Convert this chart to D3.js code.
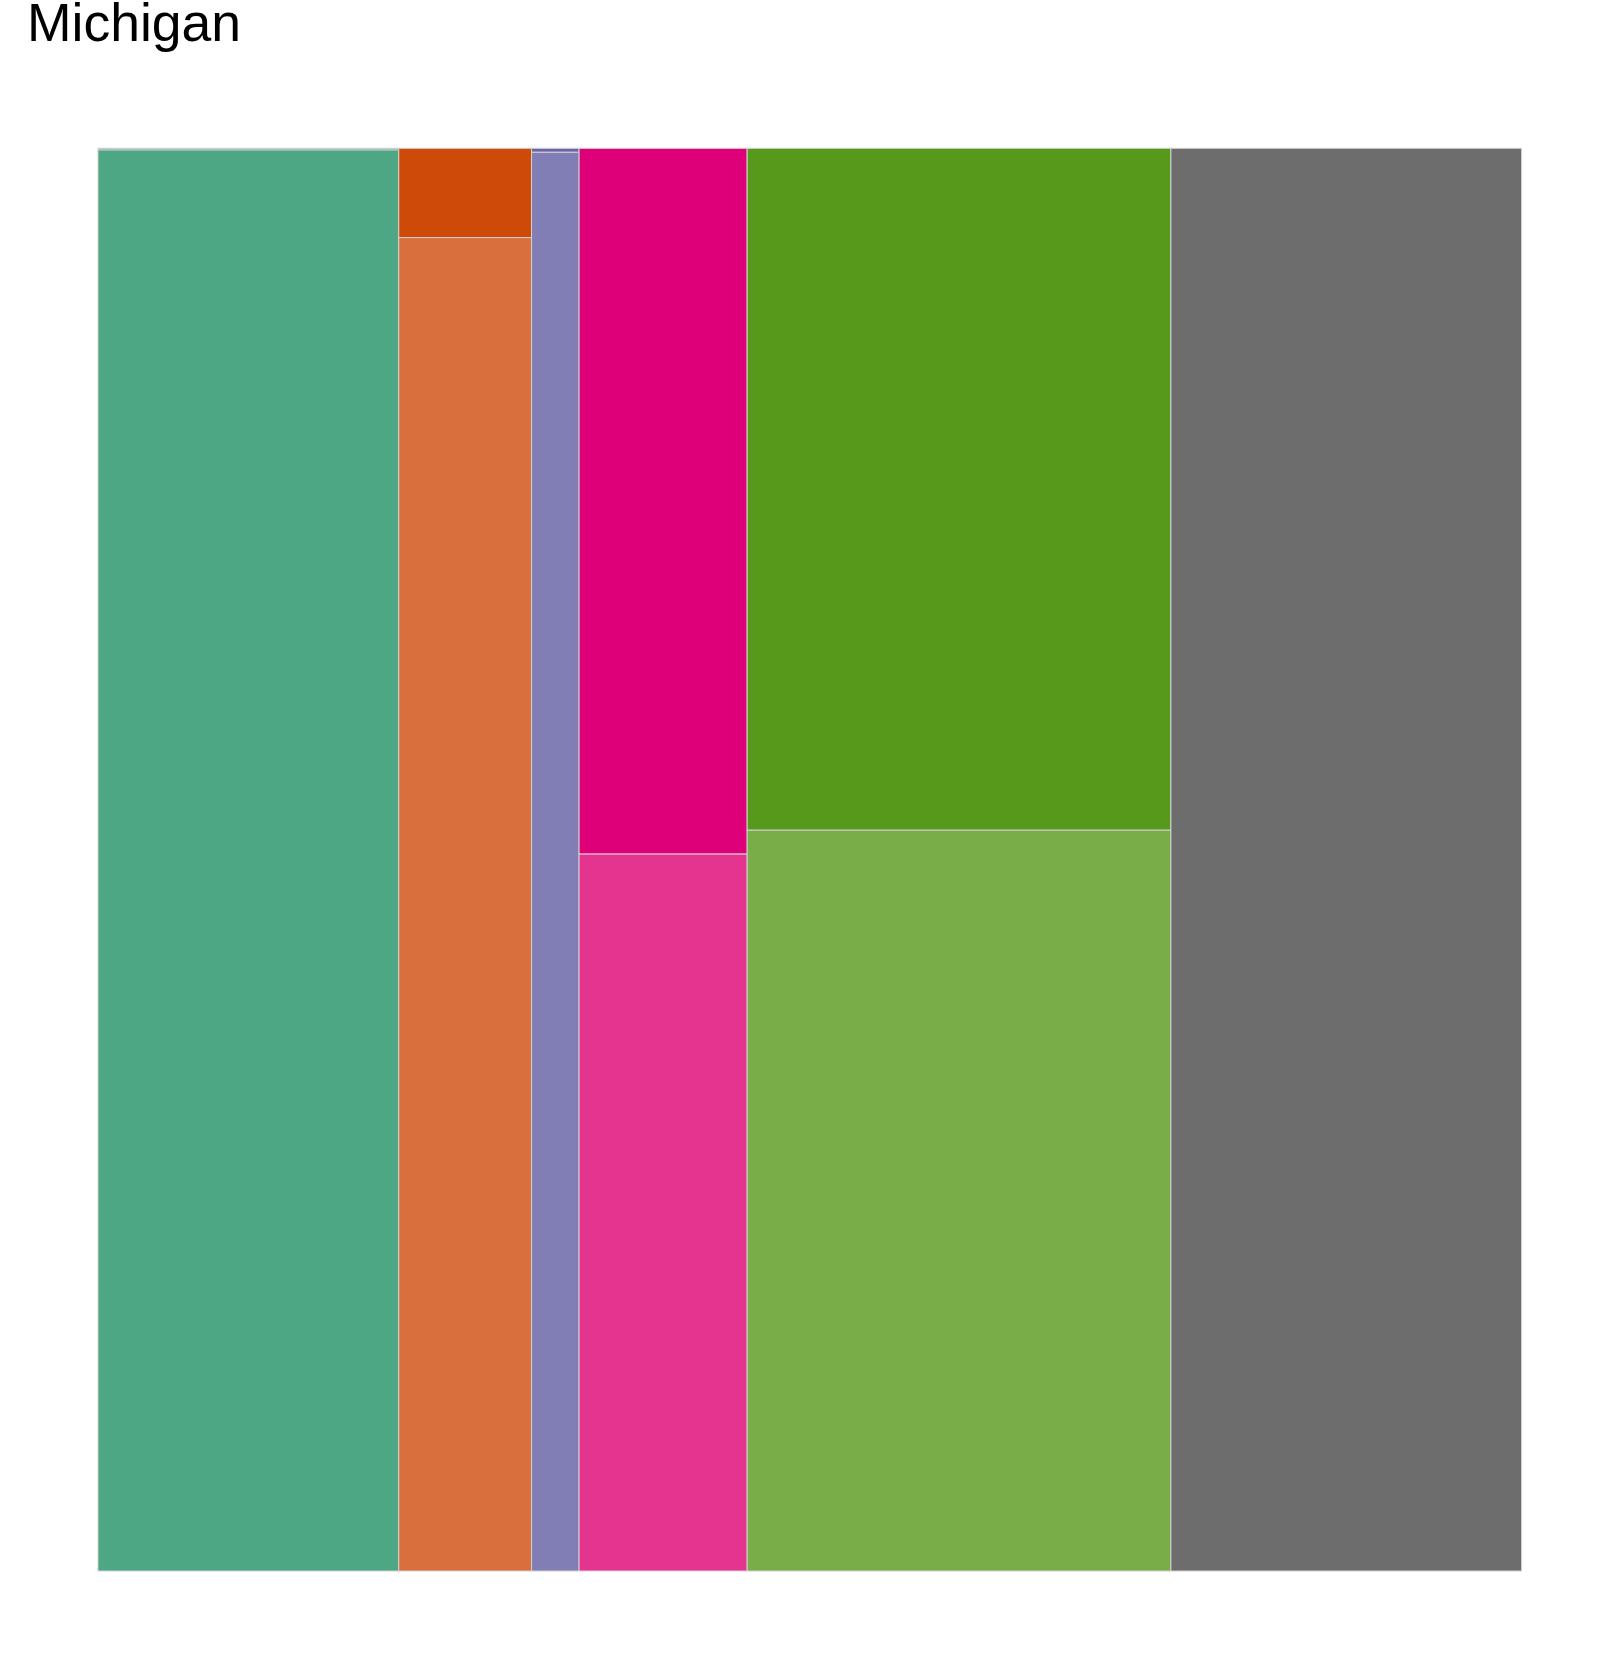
<!DOCTYPE html>
<html><head><meta charset="utf-8">
<script src="https://cdn.jsdelivr.net/npm/d3@7"></script>
<style>body{margin:0;background:#fff}svg{display:block}</style>
</head><body>
<script>
// Column categories and their share of the total width
const categories = ["Cat1","Cat2","Cat3","Cat4","Cat5","Cat6"];
const columnShare = [0.2113, 0.0933, 0.0334, 0.1181, 0.2977, 0.2464];
// Share of each column in the top (darker) row
const topShare = [0.0012, 0.0628, 0.0028, 0.4961, 0.4793, 0.0];
const topColors = ["#3f9a78", "#ce4a08", "#6965a8", "#dd0078", "#57991a", "#6d6d6d"];
const bottomColors = ["#4da785", "#d96f3c", "#817db5", "#e53490", "#78ad48", "#6d6d6d"];
const title = "Michigan";

const W = 1608, H = 1654;
const svg = d3.select("body").append("svg").attr("width", W).attr("height", H);

const x = d3.scaleLinear().domain([0, 1]).range([98, 1521.3]);
const y = d3.scaleLinear().domain([0, 1]).range([148.3, 1571]);

const starts = d3.cumsum([0, ...columnShare]);
const cells = [];
categories.forEach((c, i) => {
  const x0 = starts[i], x1 = starts[i] + columnShare[i];
  cells.push({x0, x1, y0: 0, y1: topShare[i], fill: topColors[i]});
  cells.push({x0, x1, y0: topShare[i], y1: 1, fill: bottomColors[i]});
});

svg.append("g").selectAll("rect").data(cells).join("rect")
  .attr("x", d => x(d.x0))
  .attr("y", d => y(d.y0))
  .attr("width", d => x(d.x1) - x(d.x0))
  .attr("height", d => Math.max(0, y(d.y1) - y(d.y0)))
  .attr("fill", d => d.fill)
  .attr("stroke", "#d2d2d2")
  .attr("stroke-width", 1);

svg.append("text").attr("x", 27).attr("y", 40.5)
  .attr("font-family", "Liberation Sans, Arial, sans-serif")
  .attr("font-size", 53.5).attr("fill", "#000").text(title);
</script>
</body></html>
